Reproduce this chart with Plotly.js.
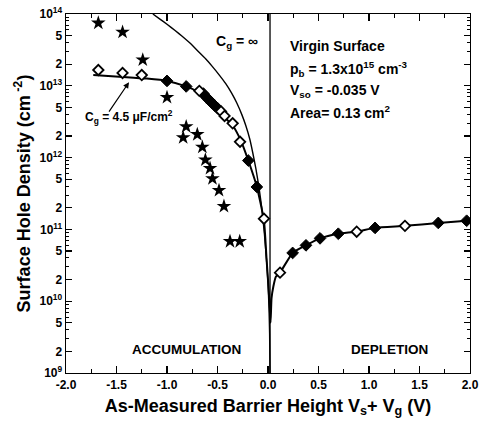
<!DOCTYPE html>
<html><head><meta charset="utf-8">
<script src="https://cdn.plot.ly/plotly-3.0.1.min.js"></script>
<style>html,body{margin:0;padding:0;background:#fff}#chart{width:481px;height:430px}</style>
</head><body><div id="chart"></div>
<script>
// Stars (measured, no gate correction)
const starX = [-1.68, -1.44, -1.24, -1.00, -0.81, -0.84, -0.70, -0.65, -0.62, -0.574, -0.55, -0.485, -0.436, -0.376, -0.28];
const starY = [7.5e13, 5.6e13, 2.3e13, 6.9e12, 2.7e12, 1.9e12, 2.1e12, 1.4e12, 9.3e11, 7.1e11, 5.1e11, 3.5e11, 2.1e11, 6.8e10, 6.8e10];
// Open diamonds
const openX = [-1.68, -1.44, -1.25, -0.68, -0.465, -0.43, -0.35, -0.277, -0.04, 0.119, 0.878, 1.356];
const openY = [1.66e13, 1.51e13, 1.41e13, 8.5e12, 4.4e12, 3.8e12, 3.0e12, 1.66e12, 1.41e11, 2.5e10, 9.3e10, 1.12e11];
// Filled diamonds
const fillX = [-1.0, -0.81, -0.64, -0.61, -0.58, -0.555, -0.525, -0.495, -0.195, -0.11, 0.244, 0.376, 0.515, 0.696, 1.06, 1.686, 1.967];
const fillY = [1.17e13, 9.8e12, 7.8e12, 6.9e12, 6.3e12, 5.75e12, 5.25e12, 4.8e12, 9.1e11, 3.9e11, 4.7e10, 6.0e10, 7.5e10, 8.7e10, 1.05e11, 1.23e11, 1.32e11];
// Fit curve, Cg = 4.5 uF/cm2
const fitX = [-1.73, -1.4, -1.2, -1.0, -0.81, -0.7, -0.6, -0.5, -0.436, -0.35, -0.27, -0.195, -0.11, -0.04, -0.015, 0.013, 0.025, 0.035, 0.053, 0.079, 0.119, 0.244, 0.376, 0.515, 0.696, 0.878, 1.06, 1.356, 1.686, 1.967];
const fitY = [1.41e13, 1.32e13, 1.26e13, 1.17e13, 9.8e12, 8.3e12, 6.3e12, 4.6e12, 3.7e12, 2.8e12, 1.74e12, 9.1e11, 3.9e11, 1.32e11, 4e10, 1.05e10, 5e9, 1.1e10, 1.6e10, 2.2e10, 2.5e10, 4.7e10, 6.0e10, 7.5e10, 8.7e10, 9.3e10, 1.05e11, 1.12e11, 1.23e11, 1.32e11];
// Cg = infinity curve
const infX = [-1.14, -1.07, -1.0, -0.92, -0.85, -0.77, -0.7, -0.62, -0.55, -0.48, -0.42, -0.36, -0.31, -0.26, -0.22, -0.18, -0.15, -0.12, -0.09, -0.06, -0.035, -0.015, 0.0, 0.01, 0.016, 0.02];
const infY = [1e14, 8.5e13, 7.2e13, 5.9e13, 4.9e13, 3.9e13, 3.1e13, 2.4e13, 1.85e13, 1.4e13, 1.08e13, 7.9e12, 5.8e12, 4.0e12, 2.8e12, 1.8e12, 1.15e12, 7.0e11, 3.9e11, 1.9e11, 8.5e10, 3.8e10, 1.8e10, 8e9, 3.5e9, 1e9];
// Divider between accumulation and depletion
const divX = [0.02, 0.02];
const divY = [1e9, 1e14];

const yTickVals = [], yTickText = [], yMinor = [];
for (let e = 9; e <= 14; e++) {
  for (let m = 1; m <= 9; m++) {
    const v = m * Math.pow(10, e);
    if (e === 14 && m > 1) break;
    if (m === 1) { yTickVals.push(v); yTickText.push('10<sup>' + e + '</sup>'); }
    else if (m === 2 || m === 5) { yTickVals.push(v); yTickText.push(String(m)); }
    else yMinor.push(v);
  }
}
const xTickVals = [-2, -1.5, -1, -0.5, 0, 0.5, 1, 1.5, 2];
const xTickText = ['-2.0', '-1.5', '-1.0', '-0.5', '0.0', '0.5', '1.0', '1.5', '2.0'];

const F = 'Liberation Sans, Arial, sans-serif';
const B = (s) => '<b>' + s + '</b>';
const traces = [
  {x: divX, y: divY, mode: 'lines', line: {color: '#000', width: 1.3}, hoverinfo: 'skip'},
  {x: infX, y: infY, mode: 'lines', line: {color: '#000', width: 1.4, shape: 'spline', smoothing: 0.4}},
  {x: fitX, y: fitY, mode: 'lines', line: {color: '#000', width: 2, shape: 'spline', smoothing: 0.5}},
  {x: starX, y: starY, mode: 'markers', marker: {symbol: 'star', size: 11, color: '#000'}},
  {x: fillX, y: fillY, mode: 'markers', marker: {symbol: 'diamond', size: 9, color: '#000', line: {color: '#000', width: 1}}},
  {x: openX, y: openY, mode: 'markers', marker: {symbol: 'diamond', size: 8, color: '#fff', line: {color: '#000', width: 1.8}}}
];

const tf = (s) => ({size: s, family: F, color: '#000'});
const ann = [
  {x: -0.31, y: 13.61, text: B('C<sub>g</sub> = ∞'), showarrow: false, font: tf(14)},
  {x: -1.38, y: 12.57, text: B('C<sub>g</sub> = 4.5 μF/cm<sup>2</sup>'), showarrow: false, font: tf(12)},
  {x: -1.376, y: 13.05, text: '', showarrow: true, ax: -21, ay: 31, arrowhead: 2, arrowsize: 1, arrowwidth: 1.2, arrowcolor: '#000'},
  {x: 0.2, y: 13.55, xanchor: 'left', text: B('Virgin Surface'), showarrow: false, font: tf(14)},
  {x: 0.2, y: 13.24, xanchor: 'left', text: B('p<sub>b</sub> = 1.3x10<sup>15</sup> cm<sup>-3</sup>'), showarrow: false, font: tf(14)},
  {x: 0.2, y: 12.93, xanchor: 'left', text: B('V<sub>so</sub> = -0.035 V'), showarrow: false, font: tf(14)},
  {x: 0.2, y: 12.63, xanchor: 'left', text: B('Area= 0.13 cm<sup>2</sup>'), showarrow: false, font: tf(14)},
  {x: -0.81, y: 9.33, text: B('ACCUMULATION'), showarrow: false, font: tf(13.5)},
  {x: 1.2, y: 9.33, text: B('DEPLETION'), showarrow: false, font: tf(13.5)}
];

const layout = {
  width: 481, height: 430,
  margin: {l: 66, r: 11, t: 14, b: 57},
  paper_bgcolor: '#fff', plot_bgcolor: '#fff',
  showlegend: false,
  font: {family: F, color: '#000'},
  xaxis: {
    range: [-2, 2], tickmode: 'array', tickvals: xTickVals, ticktext: xTickText.map(B),
    ticks: 'inside', ticklen: 7, tickwidth: 1.2, tickcolor: '#000',
    minor: {dtick: 0.25, tick0: 0, ticks: 'inside', ticklen: 4, tickcolor: '#000', tickwidth: 1, showgrid: false},
    showline: true, linecolor: '#000', linewidth: 1.4, mirror: 'ticks',
    showgrid: false, zeroline: false,
    tickfont: tf(12),
    title: {text: B('As-Measured Barrier Height V<sub>s</sub>+ V<sub>g</sub> (V)'), font: tf(18), standoff: 8}
  },
  yaxis: {
    type: 'log', range: [9, 14], tickmode: 'array', tickvals: yTickVals, ticktext: yTickText.map(B),
    ticks: 'inside', ticklen: 6, tickwidth: 1.2, tickcolor: '#000',
    minor: {tickvals: yMinor, ticks: 'inside', ticklen: 3, tickcolor: '#000', tickwidth: 1, showgrid: false},
    showline: true, linecolor: '#000', linewidth: 1.4, mirror: 'ticks',
    showgrid: false, zeroline: false,
    tickfont: tf(12),
    title: {text: B('Surface Hole Density (cm<sup> -2</sup>)'), font: tf(18), standoff: 4}
  },
  annotations: ann
};
Plotly.newPlot('chart', traces, layout, {displayModeBar: false, staticPlot: true});
</script></body></html>
